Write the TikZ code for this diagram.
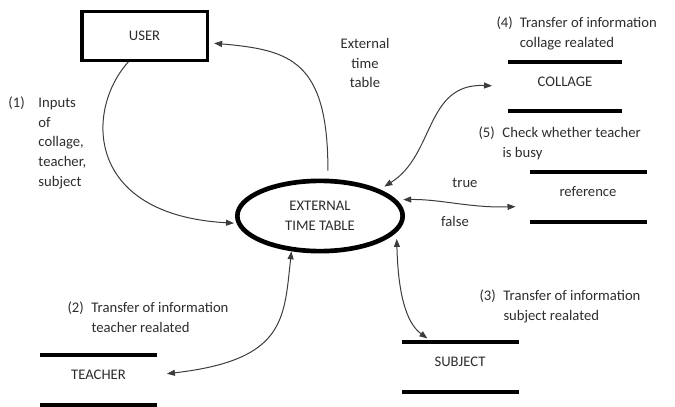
\documentclass[tikz,border=0pt]{standalone}
\usepackage{fontspec}
\setmainfont{Carlito}
\usetikzlibrary{arrows.meta,shapes.geometric}

\definecolor{inkgray}{RGB}{45,45,45}
\definecolor{flowgray}{RGB}{60,60,60}

\tikzset{every picture/.style={line width=0.75pt}}
\tikzset{
  txt/.style={font=\fontsize{11}{14.8}\selectfont, text=inkgray, inner sep=0pt},
  store/.style={txt, outer sep=0pt, minimum width=87.75pt, minimum height=37.5pt, text height=7pt, text depth=7.5pt},
  storeline/.style={line width=3pt, black},
  flow/.style={draw=flowgray, line width=0.75pt, >={Triangle[length=6pt,width=4.5pt]}}
}

\newcommand{\steplabel}[3]{\begin{tabular}[t]{@{}p{#1}@{}l@{}}#2 & #3\end{tabular}}

\begin{document}
\begin{tikzpicture}[x=0.75pt,y=0.75pt,yscale=-1,xscale=1]
\useasboundingbox (0,0) rectangle (675,407);

%Shape: Rectangle [user]
\node (user) at (144.5,36) [txt, draw=black, line width=2.5pt, minimum width=94pt, minimum height=36.5pt] {USER};

%Shape: Ellipse [external time table]
\node (ett) at (320,216) [txt, ellipse, draw=black, line width=3.5pt, minimum width=124pt, minimum height=52.7pt, align=center] {EXTERNAL\\TIME TABLE};

%Data stores
\node (collage) at (565,86.5) [store, minimum width=85.5pt, minimum height=36.75pt] {COLLAGE};
\node (reference) at (588,197) [store] {reference};
\node (teacher) at (98.5,380) [store] {TEACHER};
\node (subject) at (460,367) [store] {SUBJECT};

\foreach \s in {collage,reference,teacher,subject}
  \draw [storeline] (\s.north west) -- (\s.north east) (\s.south west) -- (\s.south east);

% Text Node
\node (inputs) at (8,107.5) [txt, anchor=base west] {\steplabel{22.5pt}{(1)}{Inputs\\ & of\\ & collage,\\ & teacher,\\ & subject}};
% Text Node
\node (extlabel) at (365,63) [txt, align=center] {External\\time\\table};
% Text Node
\node (collagelabel) at (496,27.5) [txt, anchor=base west] {\steplabel{17.5pt}{(4)}{Transfer of information\\ & collage realated}};
% Text Node
\node (busylabel) at (478,137.5) [txt, anchor=base west] {\steplabel{18pt}{(5)}{Check whether teacher\\ & is busy}};
% Text Node
\node (truelabel) at (465,187.5) [txt, anchor=base] {true};
% Text Node
\node (falselabel) at (455,226.5) [txt, anchor=base] {false};
% Text Node
\node (teacherlabel) at (67,312.5) [txt, anchor=base west] {\steplabel{18pt}{(2)}{Transfer of information\\ & teacher realated}};
% Text Node
\node (subjectlabel) at (479,300.5) [txt, anchor=base west] {\steplabel{18pt}{(3)}{Transfer of information\\ & subject realated}};

%Curve Lines
\draw [flow, ->, shorten <=6pt, shorten >=4pt] (ett.78) .. controls (328,60) and (290,50) .. (user.-6);
\draw [flow, ->, shorten >=2pt] (user.238) .. controls (85,110) and (85,215) .. (ett.185);
\draw [flow, <->, shorten <=4pt, shorten >=12pt] (ett.24) .. controls (435,155) and (425,83) .. (collage.west);
\draw [flow, <->, shorten <=5pt, shorten >=10.5pt] (ett.12) .. controls (440,199) and (470,208) .. (reference.189);
\draw [flow, <->, shorten <=5pt, shorten >=4.5pt] (ett.348) .. controls (398,290) and (405,322) .. (subject.138);
\draw [flow, <->, shorten >=7.5pt] (ett.231) .. controls (284,320) and (285,360) .. (teacher.5);

\end{tikzpicture}
\end{document}
